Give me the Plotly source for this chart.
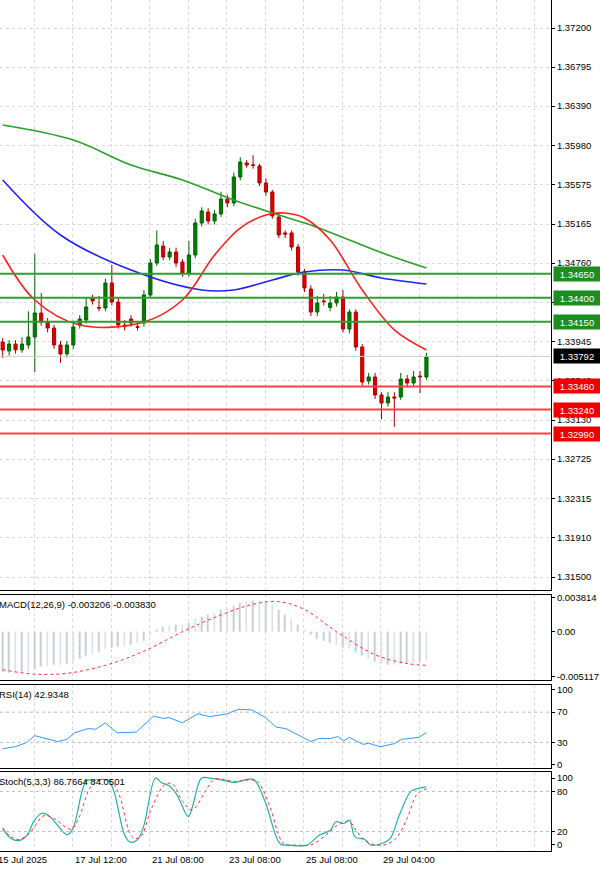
import plotly.graph_objects as go

# ---------------- data ----------------
opens = [1.33941,1.33848,1.33920,1.33860,1.33910,1.33993,1.34242,1.34149,1.34086,1.33910,
         1.33817,1.33910,1.34117,1.34169,1.34398,1.34300,1.34294,1.34553,1.34356,1.34117,
         1.34180,1.34100,1.34138,1.34429,1.34761,1.34937,1.34823,1.34875,1.34771,1.34657,
         1.34844,1.35176,1.35290,1.35197,1.35270,1.35425,1.35384,1.35654,1.35799,1.35778,
         1.35768,1.35592,1.35498,1.35239,1.35073,1.35073,1.34927,1.34668,1.34491,1.34252,
         1.34367,1.34300,1.34346,1.34408,1.34076,1.34252,1.33889,1.33536,1.33578,1.33391,
         1.33308,1.33370,1.33370,1.33557,1.33515,1.33588,1.33578]
closes = [1.33858,1.33920,1.33860,1.33920,1.33993,1.34242,1.34149,1.34086,1.33910,1.33817,
          1.33910,1.34097,1.34180,1.34304,1.34367,1.34294,1.34553,1.34356,1.34117,1.34100,
          1.34138,1.34095,1.34429,1.34761,1.34948,1.34823,1.34875,1.34761,1.34657,1.34844,
          1.35176,1.35301,1.35197,1.35270,1.35425,1.35384,1.35654,1.35809,1.35778,1.35776,
          1.35592,1.35498,1.35249,1.35052,1.35062,1.34927,1.34668,1.34501,1.34252,1.34346,
          1.34360,1.34346,1.34408,1.34076,1.34252,1.33889,1.33526,1.33578,1.33391,1.33308,
          1.33370,1.33360,1.33557,1.33515,1.33578,1.33580,1.33792]
highs = [1.33983,1.33960,1.33960,1.33990,1.34260,1.34854,1.34450,1.34190,1.34120,1.33950,
         1.33950,1.34160,1.34220,1.34400,1.34430,1.34420,1.34600,1.34740,1.34400,1.34170,
         1.34220,1.34160,1.34480,1.34800,1.35100,1.34990,1.34920,1.34920,1.34800,1.34990,
         1.35220,1.35340,1.35330,1.35310,1.35500,1.35470,1.35700,1.35860,1.35830,1.35880,
         1.35790,1.35640,1.35520,1.35280,1.35100,1.35100,1.34960,1.34700,1.34530,1.34420,
         1.34440,1.34420,1.34460,1.34480,1.34280,1.34280,1.33920,1.33620,1.33620,1.33420,
         1.33420,1.33420,1.33620,1.33600,1.33640,1.33640,1.33830]
lows = [1.33775,1.33800,1.33820,1.33830,1.33870,1.33630,1.34110,1.34040,1.33870,1.33725,
        1.33780,1.33870,1.34080,1.34130,1.34330,1.34260,1.34260,1.34320,1.34080,1.34060,
        1.34100,1.34060,1.34100,1.34400,1.34730,1.34790,1.34790,1.34720,1.34620,1.34620,
        1.34810,1.35140,1.35160,1.35160,1.35240,1.35340,1.35350,1.35620,1.35750,1.35740,
        1.35560,1.35460,1.35220,1.35020,1.35020,1.34890,1.34630,1.34460,1.34210,1.34210,
        1.34320,1.34260,1.34310,1.34040,1.34030,1.33850,1.33490,1.33500,1.33350,1.33140,
        1.33270,1.33060,1.33340,1.33470,1.33480,1.33410,1.33550]

ma_red_idx = [0,5,12,22,28,33,37,41,44,47,51,56,61,66]
ma_red_val = [1.34844,1.34377,1.34117,1.34149,1.34377,1.34844,1.35124,1.35259,1.35280,1.35228,1.34999,1.34481,1.34066,1.33858]
ma_blue_idx = [0,9,20,31,36,42,47,53,59,66]
ma_blue_val = [1.35623,1.35052,1.34688,1.34481,1.34481,1.34585,1.34668,1.34688,1.34606,1.34543]
ma_green_idx = [0,11,20,28,36,43,48,54,60,66]
ma_green_val = [1.36194,1.36038,1.35778,1.35623,1.35415,1.35259,1.35156,1.34999,1.34844,1.34709]

res_levels = [1.34650,1.34400,1.34150]
sup_levels = [1.33480,1.33240,1.32990]
last_price = 1.33792
price_ticks = [1.37200,1.36795,1.36390,1.35980,1.35575,1.35165,1.34760,1.34355,1.33945,1.33540,
               1.33130,1.32725,1.32315,1.31910,1.31500]

macd_hist = [-0.0046,-0.0047,-0.0047,-0.0046,-0.0045,-0.0042,-0.0040,-0.0039,-0.0038,-0.0038,
             -0.0036,-0.0034,-0.0031,-0.0028,-0.0025,-0.0023,-0.0020,-0.0018,-0.0017,-0.0016,
             -0.0015,-0.0013,-0.0010,-0.0004,0.0002,0.0005,0.0007,0.0008,0.0008,0.0010,
             0.0014,0.0017,0.0019,0.0021,0.0024,0.0026,0.0029,0.0032,0.0034,0.0035,
             0.0035,0.0033,0.0030,0.0025,0.0019,0.0014,0.0008,0.0002,-0.0004,-0.0008,
             -0.0011,-0.0013,-0.0015,-0.0018,-0.0020,-0.0023,-0.0027,-0.0031,-0.0034,-0.0037,
             -0.0038,-0.0038,-0.0037,-0.0036,-0.0035,-0.0034,-0.0032]
macd_sig_idx = [0,5,10,16,22,28,34,39,43,47,52,58,63,66]
macd_sig_val = [-0.0043,-0.0048,-0.0047,-0.0038,-0.0022,0.0000,0.0019,0.0031,0.0034,0.0025,0.0000,-0.0026,-0.0036,-0.0038]

rsi_idx = [0,2.0,3.8,4.96,8.55,10.0,11.2,13.3,14.5,16.0,17.8,20.8,23.5,25.0,25.9,28.0,30.4,32.2,34.9,36.7,
           38.8,40.9,42.6,44.1,48.0,49.2,51.0,52.2,53.1,54.0,56.1,57.0,58.8,60.9,62.1,64.8,66.0]
rsi_val = [21.5,24.3,30,38.9,31.1,33.8,42.7,48.2,47.4,55.9,42.7,43.5,64.8,61.7,62.8,55.9,67.9,64.1,67.6,73.8,
           73.0,62.9,50.1,48.2,31.1,35.0,35.0,37.7,31.9,36.6,27.3,28.8,24.2,28.1,33.9,36.6,42.9]

stk_idx = [0,1.37,2.57,3.77,4.96,6.16,7.36,10.05,10.94,13.04,14.23,16.33,17.22,19.02,19.92,21.11,22.01,23.8,24.7,25.9,
           27.09,28.89,29.49,30.98,32.18,34.27,36.06,39.05,40.85,43.24,44.44,47.43,49.22,51.02,51.91,53.11,54.0,54.9,56.4,57.3,
           58.19,60.29,61.78,63.58,64.77,65.97]
stk_val = [24.5,9.2,6.6,14.3,37.2,47.4,42.3,15.3,24.5,95.9,96.9,96.9,83.2,14.3,4.1,9.2,29.6,100,93.4,88.3,
           75.5,42.3,55.1,100,100,96.9,93.4,98.0,65.3,1.5,0,0,14.3,21.9,34.7,32.1,37.2,11.7,8.2,0,
           0,9.2,44.9,80.0,84.5,86.8]
sig_idx = [0,1.37,2.57,4.07,6.46,7.95,10.64,11.84,13.63,15.13,16.92,18.12,20.21,21.41,23.2,25.3,26.5,28.0,29.5,31.9,
           33.1,36.1,38.5,39.7,41.5,43.8,45.6,48.0,50.4,52.2,54.0,55.2,57.0,59.4,61.2,63.0,64.5,66.0]
sig_val = [25.5,11.7,8.2,16.8,43.9,39.8,23.5,39.8,85.7,96.9,94.9,75.5,11.7,11.7,55.1,90.8,90.8,65.3,52.6,85.7,
           98.5,94.9,96.9,94.9,60.2,1.5,0,0,15.3,29.6,34.7,19.4,3.1,0,9.2,39.8,75.5,84.0]

date_labels = ["15 Jul 2025","17 Jul 12:00","21 Jul 08:00","23 Jul 08:00","25 Jul 08:00","29 Jul 04:00"]
date_pos = [-1.1,10.9,22.9,34.9,46.9,58.9]

# ---------------- figure ----------------
idx = list(range(len(opens)))
XR = [-0.42, 85.4]
FONT = "Liberation Sans"
GRID = "#d9d9d9"
fig = go.Figure()

fig.add_trace(go.Candlestick(x=idx, open=opens, high=highs, low=lows, close=closes,
    increasing=dict(line=dict(color="#006400", width=1), fillcolor="#008000"),
    decreasing=dict(line=dict(color="#b00000", width=1), fillcolor="#e00000"),
    whiskerwidth=0, xaxis="x", yaxis="y", showlegend=False))
for ix, vv, c in [(ma_green_idx, ma_green_val, "#2ca02c"), (ma_blue_idx, ma_blue_val, "#2222ff"),
                  (ma_red_idx, ma_red_val, "#ff2020")]:
    fig.add_trace(go.Scatter(x=ix, y=vv, mode="lines", line=dict(color=c, width=1.6, shape="spline"),
                             xaxis="x", yaxis="y", showlegend=False))

fig.add_trace(go.Bar(x=idx, y=macd_hist, marker_color="#c8c8c8", width=0.25, xaxis="x2", yaxis="y2", showlegend=False))
fig.add_trace(go.Scatter(x=macd_sig_idx, y=macd_sig_val, mode="lines",
    line=dict(color="#ff3030", width=1, dash="dot", shape="spline"), xaxis="x2", yaxis="y2", showlegend=False))

fig.add_trace(go.Scatter(x=rsi_idx, y=rsi_val, mode="lines", line=dict(color="#3399ff", width=1),
                         xaxis="x3", yaxis="y3", showlegend=False))

fig.add_trace(go.Scatter(x=stk_idx, y=stk_val, mode="lines", line=dict(color="#20b2aa", width=1.2, shape="spline"),
                         xaxis="x4", yaxis="y4", showlegend=False))
fig.add_trace(go.Scatter(x=sig_idx, y=sig_val, mode="lines", line=dict(color="#ff3030", width=1, dash="dot", shape="spline"),
                         xaxis="x4", yaxis="y4", showlegend=False))

H = 851.0
def dom(top, bot):
    return [1 - bot / H, 1 - top / H]

xcommon = dict(range=XR, showticklabels=False, tick0=4.9, dtick=6.0, showgrid=True, gridcolor=GRID,
               griddash="dot", zeroline=False, showline=True, mirror=True, linecolor="#000", linewidth=1,
               ticks="", automargin=False)
ycommon = dict(side="right", showline=True, mirror=True, linecolor="#000", linewidth=1, gridcolor=GRID,
               griddash="dot", zeroline=False, ticks="outside", ticklen=3, tickcolor="#000", automargin=False,
               tickfont=dict(family=FONT, size=9.5, color="#000"))

layout = dict(width=600, height=871, margin=dict(l=0, r=49, t=0, b=20, autoexpand=False), paper_bgcolor="white",
              plot_bgcolor="white", bargap=0, font=dict(family=FONT, size=9.5, color="#000"))
layout["xaxis"] = dict(xcommon, anchor="y", rangeslider=dict(visible=False))
layout["xaxis2"] = dict(xcommon, anchor="y2", matches="x")
layout["xaxis3"] = dict(xcommon, anchor="y3", matches="x")
layout["xaxis4"] = dict(xcommon, anchor="y4", matches="x")
layout["yaxis"] = dict(ycommon, domain=dom(0, 590), range=[1.37491 - 0.0001038 * 590, 1.37491],
                       tickvals=price_ticks, ticktext=["%.5f" % v for v in price_ticks], anchor="x")
layout["yaxis2"] = dict(ycommon, domain=dom(595, 680), range=[-0.00546, 0.00415], anchor="x2",
                        tickvals=[0.003814, 0.0, -0.005117], ticktext=["0.003814", "0.00", "-0.005117"], showgrid=False)
layout["yaxis3"] = dict(ycommon, domain=dom(685, 768), range=[-4, 106], anchor="x3", showgrid=False,
                        tickvals=[100, 70, 30, 0], ticktext=["100", "70", "30", "0"])
layout["yaxis4"] = dict(ycommon, domain=dom(772, 851), range=[-9, 109], anchor="x4", showgrid=False,
                        tickvals=[100, 80, 20, 0], ticktext=["100", "80", "20", "0"])
fig.update_layout(**layout)

shapes = []
anns = []
for lv in res_levels:
    shapes.append(dict(type="line", xref="x", yref="y", x0=XR[0], x1=XR[1], y0=lv, y1=lv,
                       line=dict(color="#2ca02c", width=2)))
    anns.append(dict(xref="paper", yref="y", x=1.0, y=lv, xanchor="left", text="%.5f" % lv, showarrow=False,
                     bgcolor="#1e8c1e", font=dict(color="white", size=9.5, family=FONT), xshift=2, width=44, height=12))
for lv in sup_levels:
    shapes.append(dict(type="line", xref="x", yref="y", x0=XR[0], x1=XR[1], y0=lv, y1=lv,
                       line=dict(color="#ff4040", width=2)))
    anns.append(dict(xref="paper", yref="y", x=1.0, y=lv, xanchor="left", text="%.5f" % lv, showarrow=False,
                     bgcolor="#f00000", font=dict(color="white", size=9.5, family=FONT), xshift=2, width=44, height=12))
shapes.append(dict(type="line", xref="x", yref="y", x0=XR[0], x1=XR[1], y0=last_price, y1=last_price,
                   line=dict(color="#cccccc", width=1)))
anns.append(dict(xref="paper", yref="y", x=1.0, y=last_price, xanchor="left", text="%.5f" % last_price,
                 showarrow=False, bgcolor="#000", font=dict(color="white", size=9.5, family=FONT), xshift=2,
                 width=44, height=12))
for yv in [70, 30]:
    shapes.append(dict(type="line", xref="x3", yref="y3", x0=XR[0], x1=XR[1], y0=yv, y1=yv,
                       line=dict(color="#bbbbbb", width=1, dash="dot")))
for yv in [80, 20]:
    shapes.append(dict(type="line", xref="x4", yref="y4", x0=XR[0], x1=XR[1], y0=yv, y1=yv,
                       line=dict(color="#bbbbbb", width=1, dash="dot")))

for txt, yp in [("MACD(12,26,9) -0.003206 -0.003830", dom(595, 680)[1]),
                ("RSI(14) 42.9348", dom(685, 768)[1]),
                ("Stoch(5,3,3) 86.7664 84.0501", dom(772, 851)[1])]:
    anns.append(dict(xref="paper", yref="paper", x=0, y=yp, xanchor="left", yanchor="top", yshift=-2, xshift=-3,
                     text=txt, showarrow=False, font=dict(size=9.5, family=FONT, color="#000")))
for lab, pos in zip(date_labels, date_pos):
    anns.append(dict(xref="paper", yref="paper", x=(pos - XR[0]) / (XR[1] - XR[0]), y=0, xanchor="left",
                     yanchor="top", yshift=-1, text=lab, showarrow=False,
                     font=dict(size=9.5, family=FONT, color="#000")))
fig.update_layout(shapes=shapes, annotations=anns)
fig.write_html("out.html", config={"displayModeBar": False})

with open("out.html", encoding="utf-8") as f:
    html = f.read()
html = html.replace("<body>", '<body style="margin:0;padding:0;overflow:hidden">', 1)
with open("out.html", "w", encoding="utf-8") as f:
    f.write(html)
